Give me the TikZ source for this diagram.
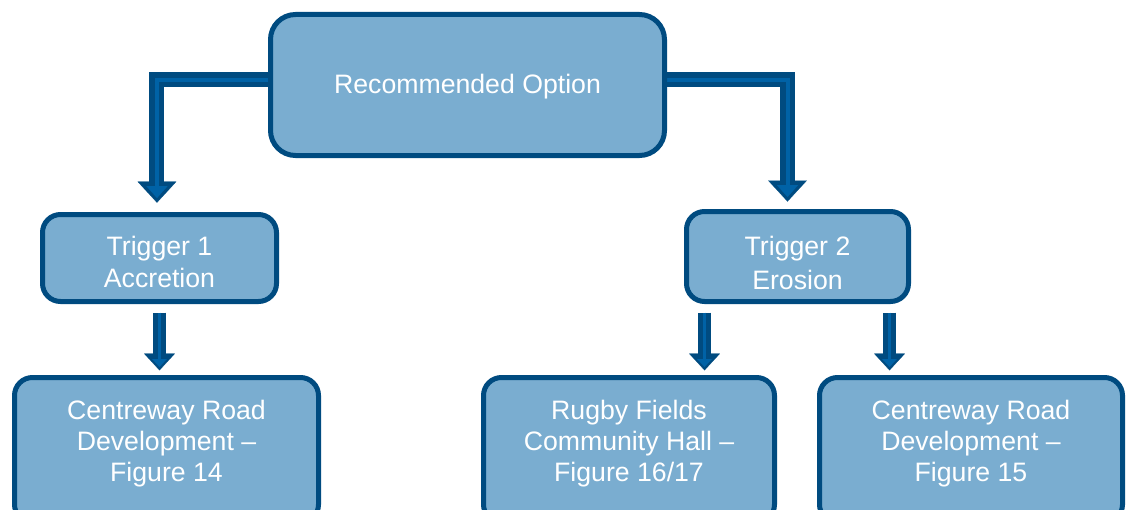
\documentclass[tikz,border=0pt]{standalone}
\usepackage{fontspec}
\setmainfont{Liberation Sans}
\usetikzlibrary{arrows.meta,backgrounds}
\definecolor{dark}{RGB}{0,75,128}
\definecolor{mid}{RGB}{0,98,166}
\definecolor{boxfill}{RGB}{122,173,208}
\begin{document}
\begin{tikzpicture}[x=0.75pt,y=-0.75pt,
  box/.style={draw=dark,line width=3.75pt,fill=boxfill,rounded corners=13.5pt,inner sep=0pt},
  txt/.style={text=white,align=center,font=\fontsize{20pt}{23.25pt}\selectfont,inner sep=0pt},
  bigout/.style={draw=dark,line width=11.25pt,line join=miter,
    -{Triangle[length=15.75pt,width=29pt,line width=0.1pt]}},
  bigin/.style={draw=mid,line width=3pt,line join=miter,
    -{Triangle[length=9pt,width=16pt,line width=0.1pt]}},
  smallout/.style={draw=dark,line width=9.75pt,
    -{Triangle[length=12.5pt,width=23pt,line width=0.1pt]}},
  smallin/.style={draw=mid,line width=2.6pt,
    -{Triangle[length=6pt,width=11pt,line width=0.1pt]}}]
\clip (0,0) rectangle (1128,510);
\useasboundingbox (0,0) rectangle (1128,510);
% boxes
\node[box,rounded corners=18.75pt,minimum width=295.5pt,minimum height=105.75pt] (top) at (467.5,85) {};
\node[box,minimum width=175.5pt,minimum height=65.25pt] (t1) at (159.5,258) {};
\node[box,minimum width=166.5pt,minimum height=67.5pt] (t2) at (797.5,256.5) {};
\node[box,minimum width=228pt,minimum height=108.75pt] (b1) at (166.5,450) {};
\node[box,minimum width=218.25pt,minimum height=108.75pt] (b2) at (629,450) {};
\node[box,minimum width=227.25pt,minimum height=108.75pt] (b3) at (971,450) {};
% texts
\node[txt] (toptext) at (467.5,87) {Recommended Option};
\node[txt,font=\fontsize{20pt}{24.5pt}\selectfont] (t1text) at (159.5,262) {Trigger 1\\Accretion};
\node[txt,font=\fontsize{20pt}{25.5pt}\selectfont] (t2text) at (797.5,262.5) {Trigger 2\\Erosion};
\node[txt] (b1text) at (166.5,444) {Centreway Road\\Development –\\Figure 14};
\node[txt] (b2text) at (629,444) {Rugby Fields\\Community Hall –\\Figure 16/17};
\node[txt] (b3text) at (971,444) {Centreway Road\\Development –\\Figure 15};
% connectors
\begin{scope}[on background layer]
\draw[bigout,shorten >=7pt] ([yshift=3.75pt]top.west) -| ([xshift=-1.9pt]t1.north);
\draw[bigin,shorten >=10.5pt] ([yshift=3.75pt]top.west) -| ([xshift=-1.9pt]t1.north);
\draw[bigout,shorten >=5.6pt] ([yshift=3.75pt]top.east) -| ([xshift=-7.5pt]t2.north);
\draw[bigin,shorten >=9pt] ([yshift=3.75pt]top.east) -| ([xshift=-7.5pt]t2.north);
\draw[smallout,shorten <=6.4pt,shorten >=3.5pt] (t1.south) -- (t1.south |- b1.north);
\draw[smallin,shorten <=6.4pt,shorten >=6pt] (t1.south) -- (t1.south |- b1.north);
\draw[smallout,shorten <=6.4pt,shorten >=3.5pt] ([xshift=15.4pt]t2.south west) -- ([xshift=15.4pt]t2.south west |- b2.north);
\draw[smallin,shorten <=6.4pt,shorten >=6pt] ([xshift=15.4pt]t2.south west) -- ([xshift=15.4pt]t2.south west |- b2.north);
\draw[smallout,shorten <=6.4pt,shorten >=3.5pt] ([xshift=-16.1pt]t2.south east) -- ([xshift=-16.1pt]t2.south east |- b3.north);
\draw[smallin,shorten <=6.4pt,shorten >=6pt] ([xshift=-16.1pt]t2.south east) -- ([xshift=-16.1pt]t2.south east |- b3.north);
\end{scope}
\end{tikzpicture}
\end{document}
